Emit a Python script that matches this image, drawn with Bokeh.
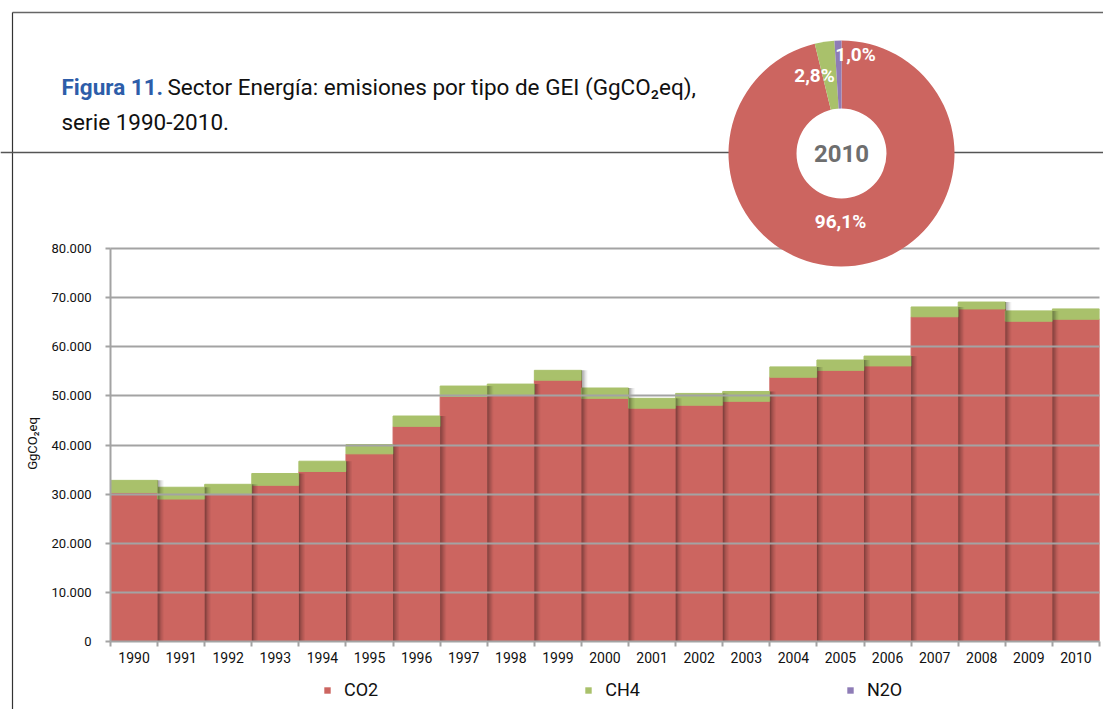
import math
from bokeh.plotting import figure
from bokeh.models import (Range1d, FixedTicker, Label, Legend, LegendItem,
                          ColumnDataSource, GridBox)
from bokeh.embed import file_html
from bokeh.resources import INLINE

# ---------------- data ----------------
years = list(range(1990, 2011))
co2 = [30300, 29000, 30100, 31800, 34600, 38200, 43800, 49900, 50300, 53200,
       49500, 47500, 48100, 48900, 53800, 55200, 56100, 66100, 67700, 65200, 65600]
ch4 = [2500, 2400, 1900, 2400, 2100, 1900, 2100, 2100, 2100, 2000,
       2100, 2000, 2400, 2000, 2100, 2100, 2000, 2000, 1400, 2100, 2100]
series_names = ["CO2", "CH4", "N2O"]
y_ticks = [0, 10000, 20000, 30000, 40000, 50000, 60000, 70000, 80000]
pie_year = "2010"
pie_values = [96.1, 2.8, 1.0]
pie_labels = ["96,1%", "2,8%", "1,0%"]
title_bold = "Figura 11."
title_rest = "Sector Energía: emisiones por tipo de GEI (GgCO₂eq),"
title_line2 = "serie 1990-2010."
y_label = "GgCO₂eq"

# ---------------- style ----------------
C_CO2 = "#CC6560"
C_CH4 = "#A9C16B"
C_N2O = "#8E7CB6"
GRID = "#A3A3A3"
FONT = "Roboto"
TXT = "#111111"

# ---------------- geometry (pixels) ----------------
W, H = 1103, 709
FRAME_L, FRAME_R, FRAME_T, FRAME_B = 110, 1099, 245, 641
Y80_PX = 248
X0, X1 = years[0] - 0.5, years[-1] + 0.5
Y_TOP = y_ticks[-1] * (FRAME_B - FRAME_T) / (FRAME_B - Y80_PX)
PX = (X1 - X0) / (FRAME_R - FRAME_L)  # data units per pixel (x)

# ================= bar chart =================
pb = figure(width=W, height=H, x_range=Range1d(X0, X1), y_range=Range1d(0, Y_TOP),
            output_backend="svg", toolbar_location=None,
            min_border_left=FRAME_L, min_border_right=W - FRAME_R,
            min_border_top=FRAME_T, min_border_bottom=H - FRAME_B)
pb.frame_align = False
pb.outline_line_color = None
pb.background_fill_color = "white"
pb.border_fill_color = "white"
pb.xgrid.visible = False

# y axis
pb.yaxis.ticker = FixedTicker(ticks=y_ticks)
pb.yaxis.bounds = (y_ticks[0], y_ticks[-1])
pb.yaxis.major_label_overrides = {t: f"{t:,}".replace(",", ".") for t in y_ticks}
pb.yaxis.axis_line_color = GRID
pb.yaxis.axis_line_width = 2
pb.yaxis.major_tick_line_color = GRID
pb.yaxis.major_tick_line_width = 2
pb.yaxis.major_tick_out = 5
pb.yaxis.major_tick_in = 0
pb.yaxis.minor_tick_line_color = None
pb.yaxis.major_label_standoff = 14
pb.yaxis.major_label_text_font = FONT
pb.yaxis.major_label_text_font_size = "13px"
pb.yaxis.major_label_text_color = TXT
pb.yaxis.axis_label = y_label
pb.yaxis.axis_label_text_font = FONT
pb.yaxis.axis_label_text_font_size = "13px"
pb.yaxis.axis_label_text_font_style = "normal"
pb.yaxis.axis_label_text_color = TXT
pb.yaxis.axis_label_standoff = 9

pb.ygrid.ticker = FixedTicker(ticks=y_ticks[1:])
pb.ygrid.grid_line_color = GRID
pb.ygrid.grid_line_width = 2
pb.ygrid.level = "guide"

# x axis
pb.xaxis.ticker = FixedTicker(ticks=years, minor_ticks=[y - 0.5 for y in years] + [years[-1] + 0.5])
pb.xaxis.major_label_overrides = {y: str(y) for y in years}
pb.xaxis.axis_line_color = GRID
pb.xaxis.axis_line_width = 2
pb.xaxis.major_tick_line_color = None
pb.xaxis.major_tick_out = 5
pb.xaxis.major_tick_in = 0
pb.xaxis.minor_tick_line_color = GRID
pb.xaxis.minor_tick_line_width = 2
pb.xaxis.minor_tick_out = 5
pb.xaxis.minor_tick_in = 0
pb.xaxis.major_label_standoff = 5
pb.xaxis.major_label_text_font = FONT
pb.xaxis.major_label_text_font_size = "14px"
pb.xaxis.major_label_text_color = TXT

# bars
totals = [a + b for a, b in zip(co2, ch4)]
src = ColumnDataSource(dict(year=years, co2=co2, ch4=ch4))
rs = pb.vbar_stack(["co2", "ch4"], x="year", width=1.0, color=[C_CO2, C_CH4], source=src)

# bar shadows cast to the right onto the next bar
alphas = [0.36, 0.27, 0.18, 0.11, 0.05]
sl, sr, st, sa = [], [], [], []
for i in range(1, len(years)):
    for k, a in enumerate(alphas):
        left = years[i] - 0.5 + k * 1.2 * PX
        sl.append(left)
        sr.append(left + 1.2 * PX)
        st.append(totals[i - 1])
        sa.append(a)
pb.quad(left=sl, right=sr, top=st, bottom=0, fill_color="black", fill_alpha=sa, line_color=None)

# ================= overlay: title, box lines, doughnut, legend =================
pa = figure(width=W, height=H, x_range=Range1d(0, W), y_range=Range1d(0, H),
            x_axis_type=None, y_axis_type=None, output_backend="svg",
            toolbar_location=None, min_border=0)
pa.frame_align = False
pa.background_fill_color = None
pa.border_fill_color = None
pa.outline_line_color = None


def Y(py):
    return H - py


# box lines
pa.segment(x0=[12, 12, 0], y0=[Y(12), Y(12), Y(152)], x1=[W, 12, W], y1=[Y(12), Y(H), Y(152)],
           line_color=["#666666", "#333333", "#555555"], line_width=[1.5, 1.2, 1.6])

# doughnut for 2010
cx, cy = 841, Y(153)
tot = sum(pie_values)
starts, ends = [], []
ang = math.pi / 2
for v in pie_values:
    starts.append(ang)
    ang -= 2 * math.pi * v / tot
    ends.append(ang)
pie = pa.wedge(x=cx, y=cy, radius=113, radius_units="screen", start_angle=starts, end_angle=ends,
               direction="clock", fill_color=[C_CO2, C_CH4, C_N2O], line_color=None)
pa.circle(x=cx, y=cy, radius=45, radius_units="screen", fill_color="white", line_color=None)

for txt, (px_, py_) in zip(pie_labels, [(840, 221), (814, 75), (855, 54)]):
    pa.add_layout(Label(x=px_, y=Y(py_), text=txt, text_align="center", text_baseline="middle",
                        text_font=FONT, text_font_style="bold", text_font_size="19px",
                        text_color="white"))
pa.add_layout(Label(x=cx, y=cy, text=pie_year, text_align="center", text_baseline="middle",
                    text_font=FONT, text_font_style="bold", text_font_size="24px",
                    text_color="#6E6E6E"))

# title
pa.add_layout(Label(x=61, y=Y(86), text=title_bold, text_align="left", text_baseline="alphabetic",
                    text_font=FONT, text_font_style="bold", text_font_size="22.5px",
                    text_color="#2D5DA9"))
pa.add_layout(Label(x=167, y=Y(86), text=title_rest, text_align="left", text_baseline="alphabetic",
                    text_font=FONT, text_font_size="22.5px", text_color=TXT))
pa.add_layout(Label(x=61, y=Y(121), text=title_line2, text_align="left", text_baseline="alphabetic",
                    text_font=FONT, text_font_size="22.5px", text_color=TXT))

# legend: one swatch per gas, taken from the doughnut's slices
legend = Legend(items=[LegendItem(label=n, renderers=[pie], index=i) for i, n in enumerate(series_names)],
                orientation="horizontal", location=(323, 9), glyph_width=8, glyph_height=8,
                label_standoff=13, spacing=206, padding=0, margin=0,
                border_line_color=None, background_fill_alpha=0,
                label_text_font=FONT, label_text_font_size="18px", label_text_color=TXT)
pa.add_layout(legend, "center")

layout = GridBox(children=[(pb, 0, 0), (pa, 0, 0)])
open("out.html", "w").write(file_html(layout, INLINE))
